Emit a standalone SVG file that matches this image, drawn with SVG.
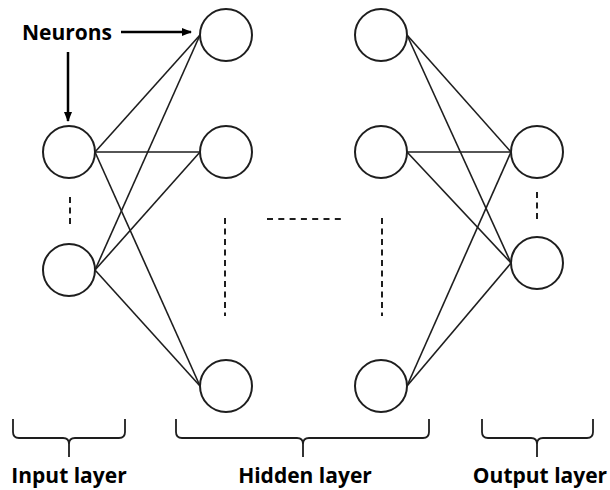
<svg xmlns="http://www.w3.org/2000/svg" width="610" height="490" viewBox="0 0 610 490">
  <style>
    .node { fill: #fff; stroke: #1e1e1e; stroke-width: 2; }
    .edge { stroke: #1e1e1e; stroke-width: 1.6; fill: none; }
    .dots { stroke: #1e1e1e; stroke-width: 2; fill: none; stroke-dasharray: 6 4.5; }
    .brace { stroke: #1e1e1e; stroke-width: 1.8; fill: none; }
    .pointer { stroke: #000; stroke-width: 2.5; fill: none; }
    .label { font-family: "Open Sans", "Liberation Sans", sans-serif; font-weight: bold; font-size: 21px; fill: #000; }
  </style>
  <defs>
    <marker id="head" viewBox="0 0 10 8" refX="9" refY="4" markerWidth="10" markerHeight="8" markerUnits="userSpaceOnUse" orient="auto">
      <path d="M0,0 L10,4 L0,8 Z" fill="#000"/>
    </marker>
  </defs>
  <rect width="610" height="490" fill="#fff"/>

  <!-- connections -->
  <g id="connectors">
    <line class="edge" x1="95" y1="152" x2="200" y2="35"/>
    <line class="edge" x1="95" y1="152" x2="200" y2="152"/>
    <line class="edge" x1="95" y1="152" x2="200" y2="386"/>
    <line class="edge" x1="95" y1="270" x2="200" y2="35"/>
    <line class="edge" x1="95" y1="270" x2="200" y2="152"/>
    <line class="edge" x1="95" y1="270" x2="200" y2="386"/>
    <line class="edge" x1="407" y1="35" x2="511" y2="152"/>
    <line class="edge" x1="407" y1="35" x2="511" y2="263"/>
    <line class="edge" x1="407" y1="152" x2="511" y2="152"/>
    <line class="edge" x1="407" y1="152" x2="511" y2="263"/>
    <line class="edge" x1="407" y1="386" x2="511" y2="152"/>
    <line class="edge" x1="407" y1="386" x2="511" y2="263"/>
    <!-- callout arrows -->
    <line class="pointer" x1="121" y1="32" x2="191" y2="32" marker-end="url(#head)"/>
    <line class="pointer" x1="68" y1="52" x2="68" y2="121" marker-end="url(#head)"/>
  </g>

  <!-- ellipsis dashes -->
  <g id="ellipses">
    <line class="dots" x1="70" y1="197" x2="70" y2="227"/>
    <line class="dots" x1="225" y1="218" x2="225" y2="316"/>
    <line class="dots" x1="382" y1="218" x2="382" y2="316"/>
    <line class="dots" x1="267" y1="219" x2="342" y2="219" style="stroke-dasharray:6 5.3"/>
    <line class="dots" x1="537" y1="192" x2="537" y2="220"/>
  </g>

  <!-- neurons -->
  <g id="in1"><circle class="node" cx="69" cy="152" r="26"/></g>
  <g id="in2"><circle class="node" cx="69" cy="270" r="26"/></g>
  <g id="h1a"><circle class="node" cx="226" cy="35" r="26"/></g>
  <g id="h1b"><circle class="node" cx="226" cy="152" r="26"/></g>
  <g id="h1c"><circle class="node" cx="226" cy="386" r="26"/></g>
  <g id="h2a"><circle class="node" cx="381" cy="35" r="26"/></g>
  <g id="h2b"><circle class="node" cx="381" cy="152" r="26"/></g>
  <g id="h2c"><circle class="node" cx="381" cy="386" r="26"/></g>
  <g id="out1"><circle class="node" cx="537" cy="152" r="26"/></g>
  <g id="out2"><circle class="node" cx="537" cy="263" r="26"/></g>

  <g id="neurons-label"><text class="label" x="22" y="40">Neurons</text></g>

  <!-- layer braces -->
  <g id="input-layer">
    <path class="brace" d="M13,419 L13,432 Q13,438 19,438 L63,438 Q69,438 69,444 L69,457 M69,444 Q69,438 75,438 L119,438 Q125,438 125,432 L125,419"/>
    <text class="label" x="69" y="483" text-anchor="middle">Input layer</text>
  </g>
  <g id="hidden-layer">
    <path class="brace" d="M176,419 L176,432 Q176,438 182,438 L297,438 Q303,438 303,444 L303,457 M303,444 Q303,438 309,438 L423,438 Q429,438 429,432 L429,419"/>
    <text class="label" x="305" y="483" text-anchor="middle">Hidden layer</text>
  </g>
  <g id="output-layer">
    <path class="brace" d="M482,419 L482,432 Q482,438 488,438 L531,438 Q537,438 537,444 L537,457 M537,444 Q537,438 543,438 L587,438 Q593,438 593,432 L593,419"/>
    <text class="label" x="540" y="483" text-anchor="middle">Output layer</text>
  </g>
</svg>
